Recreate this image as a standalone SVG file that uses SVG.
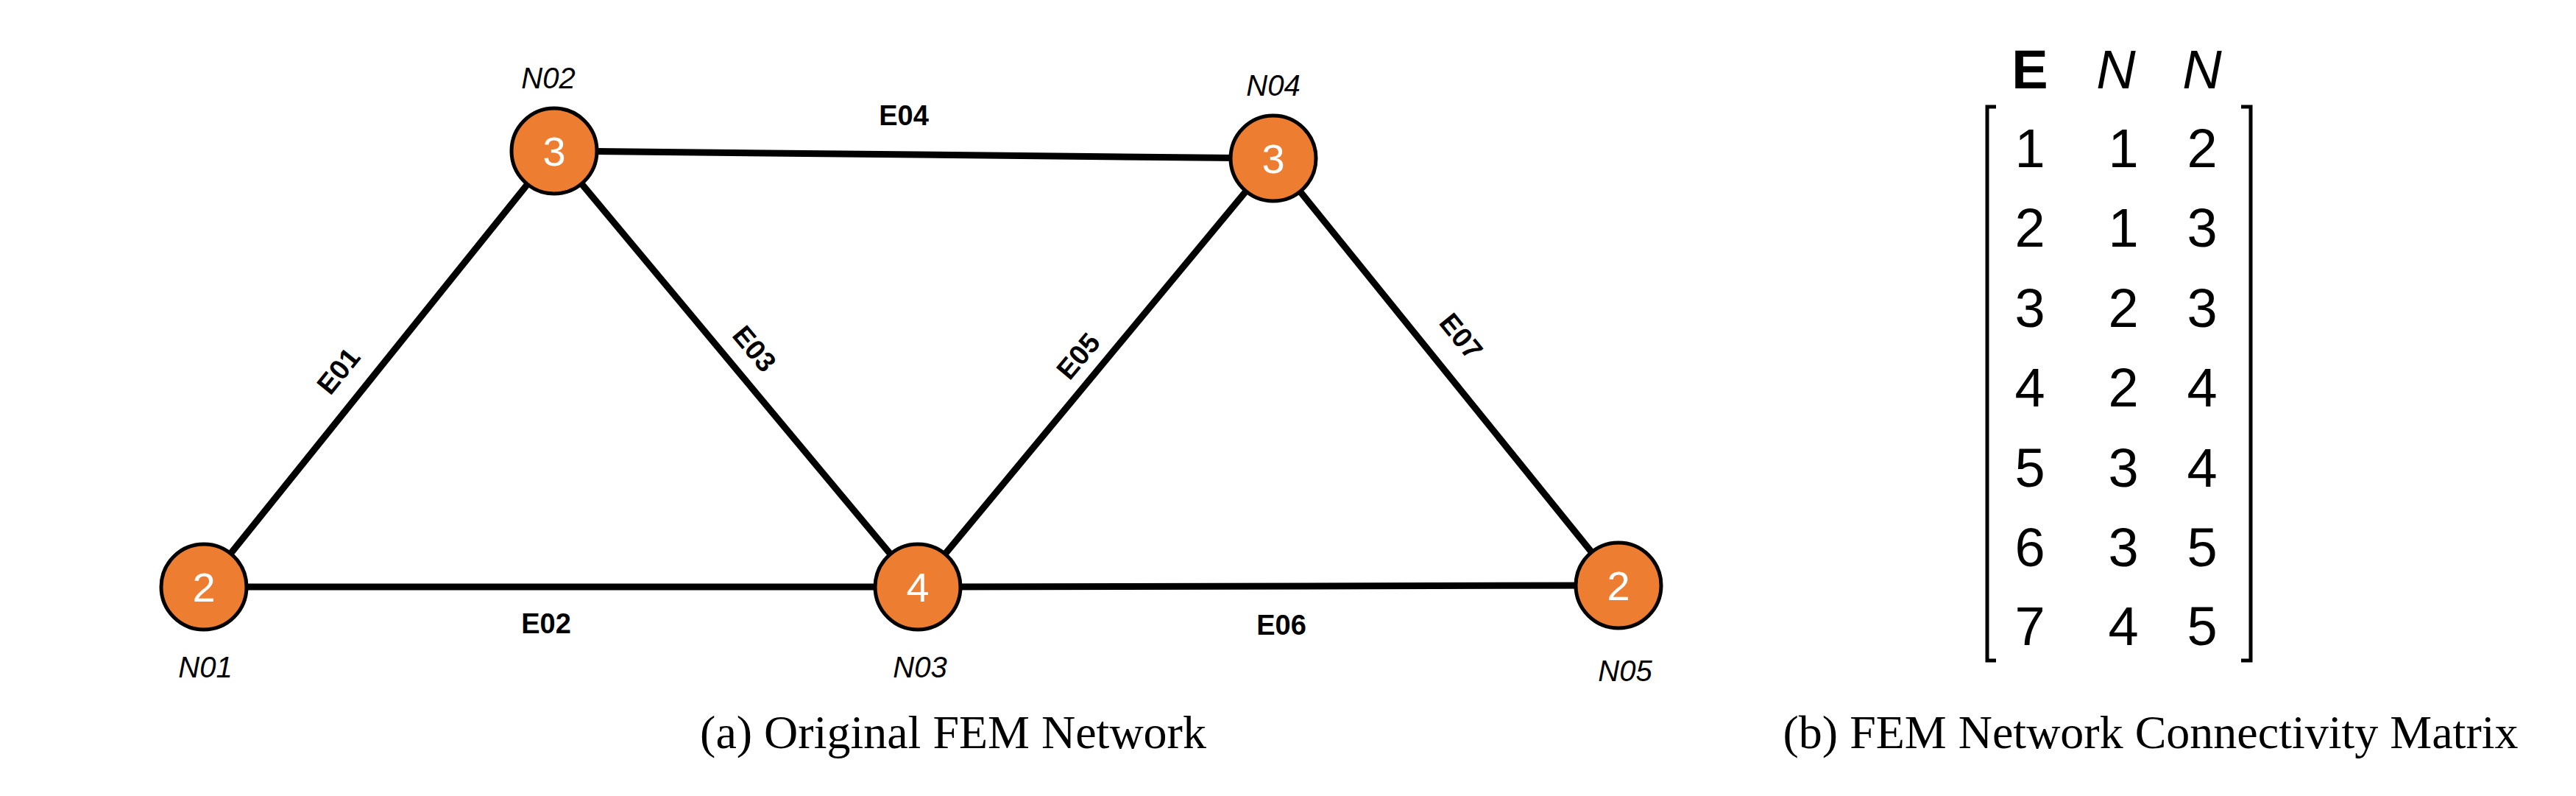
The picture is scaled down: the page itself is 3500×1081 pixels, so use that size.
<svg xmlns="http://www.w3.org/2000/svg" width="3500" height="1081" viewBox="0 0 3500 1081">
<style>
.e{stroke:#000;stroke-width:9;fill:none}
.n{fill:#ED7D31;stroke:#000;stroke-width:5}
.nv{font-family:"Liberation Sans",sans-serif;font-size:56px;fill:#fff;text-anchor:middle}
.nl{font-family:"Liberation Sans",sans-serif;font-size:40px;font-style:italic;text-anchor:middle}
.el{font-family:"Liberation Sans",sans-serif;font-size:38px;font-weight:bold;text-anchor:middle}
.m{font-family:"Liberation Sans",sans-serif;font-size:74px;text-anchor:middle}
.c{font-family:"Liberation Serif",serif;font-size:64px;text-anchor:middle}
</style>
<rect width="3500" height="1081" fill="#fff"/>
<g id="connectors">
<line class="e" x1="277" y1="797" x2="753" y2="205"/>
<line class="e" x1="277" y1="797" x2="1247" y2="797"/>
<line class="e" x1="753" y1="205" x2="1247" y2="797"/>
<line class="e" x1="753" y1="205" x2="1730" y2="215"/>
<line class="e" x1="1247" y1="797" x2="1730" y2="215"/>
<line class="e" x1="1247" y1="797" x2="2199" y2="795"/>
<line class="e" x1="1730" y1="215" x2="2199" y2="795"/>
<text class="el" transform="translate(470,512) rotate(-51)">E01</text>
<text class="el" x="742" y="860">E02</text>
<text class="el" transform="translate(1015,482) rotate(50)">E03</text>
<text class="el" x="1228" y="170">E04</text>
<text class="el" transform="translate(1475,492) rotate(-50)">E05</text>
<text class="el" x="1741" y="862">E06</text>
<text class="el" transform="translate(1975,465) rotate(51)">E07</text>
</g>
<g id="N01"><circle class="n" cx="277" cy="797" r="58"/><text class="nv" x="277" y="817">2</text><text class="nl" x="279" y="920">N01</text></g>
<g id="N02"><circle class="n" cx="753" cy="205" r="58"/><text class="nv" x="753" y="225">3</text><text class="nl" x="745" y="120">N02</text></g>
<g id="N03"><circle class="n" cx="1247" cy="797" r="58"/><text class="nv" x="1247" y="817">4</text><text class="nl" x="1250" y="920">N03</text></g>
<g id="N04"><circle class="n" cx="1730" cy="215" r="58"/><text class="nv" x="1730" y="235">3</text><text class="nl" x="1730" y="130">N04</text></g>
<g id="N05"><circle class="n" cx="2199" cy="795" r="58"/><text class="nv" x="2199" y="815">2</text><text class="nl" x="2208" y="925">N05</text></g>
<g id="matrix">
<text class="m" x="2758" y="120" font-weight="bold">E</text>
<text class="m" x="2875" y="120" font-style="italic">N</text>
<text class="m" x="2992" y="120" font-style="italic">N</text>
<path d="M2712,145 H2700 V897 H2712 M3045,145 H3058 V897 H3045" stroke="#000" stroke-width="5" fill="none"/>
<g class="m">
<text x="2758" y="227">1</text><text x="2885" y="227">1</text><text x="2992" y="227">2</text>
<text x="2758" y="335">2</text><text x="2885" y="335">1</text><text x="2992" y="335">3</text>
<text x="2758" y="444">3</text><text x="2885" y="444">2</text><text x="2992" y="444">3</text>
<text x="2758" y="552">4</text><text x="2885" y="552">2</text><text x="2992" y="552">4</text>
<text x="2758" y="661">5</text><text x="2885" y="661">3</text><text x="2992" y="661">4</text>
<text x="2758" y="769">6</text><text x="2885" y="769">3</text><text x="2992" y="769">5</text>
<text x="2758" y="876">7</text><text x="2885" y="876">4</text><text x="2992" y="876">5</text>
</g>
</g>
<text class="c" x="1295" y="1016">(a) Original FEM Network</text>
<text class="c" x="2922" y="1016">(b) FEM Network Connectivity Matrix</text>
</svg>
